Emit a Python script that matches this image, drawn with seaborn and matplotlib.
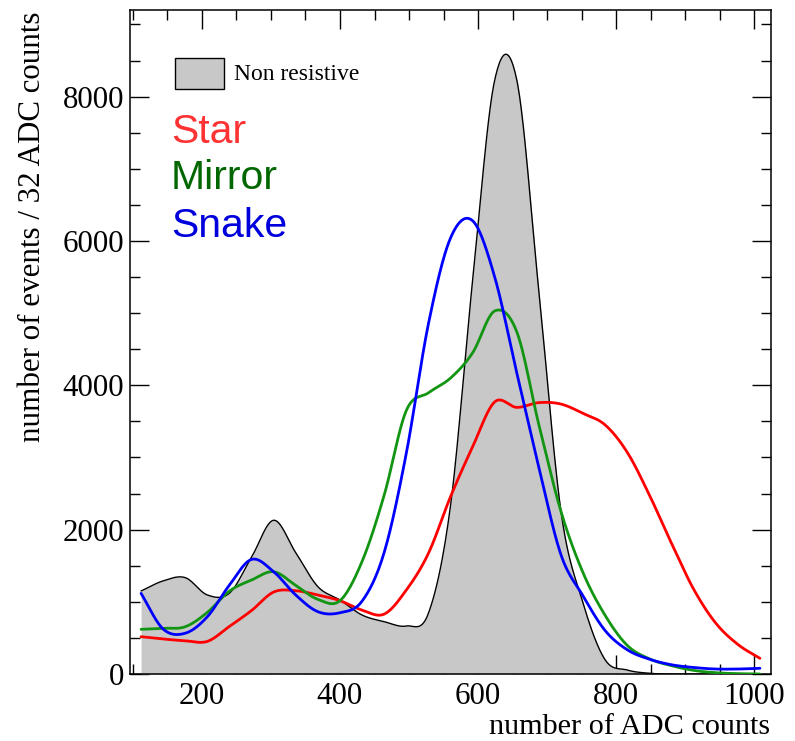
import numpy as np
import pandas as pd
import matplotlib
matplotlib.use("Agg")
import matplotlib.pyplot as plt
from matplotlib.patches import Rectangle
from matplotlib.ticker import MultipleLocator
import seaborn as sns

# ---- data (bin centres, 32 ADC counts per bin) ----
adc = [112, 144, 176, 208, 240, 272, 304, 336, 368, 400, 432, 464, 496, 528, 560,
       592, 624, 656, 688, 720, 752, 784, 816, 848, 880, 912, 944, 976, 1008]
non_resistive = [1150, 1290, 1335, 1095, 1120, 1620, 2130, 1680, 1210, 1025, 817, 725,
                 665, 840, 2330, 5450, 8230, 8230, 5300, 2250, 980, 195, 55, 10, 0, 0, 0, 0, 0]
star = [517, 485, 460, 452, 660, 880, 1136, 1154, 1094, 1016, 885, 830, 1163, 1671, 2456,
        3148, 3770, 3694, 3760, 3740, 3610, 3450, 3070, 2479, 1810, 1175, 705, 410, 217]
mirror = [619, 633, 655, 854, 1150, 1302, 1417, 1228, 1034, 1016, 1560, 2479, 3650, 3896, 4100,
          4450, 5030, 4740, 3450, 2250, 1400, 810, 395, 210, 115, 50, 18, 5, 0]
snake = [1117, 623, 565, 794, 1233, 1588, 1417, 1094, 863, 849, 1010, 1685, 3057, 4850, 6040,
         6280, 5500, 4170, 2860, 1650, 1080, 600, 335, 205, 128, 90, 69, 69, 79]

series_names = ["Star", "Mirror", "Snake"]
line_colors = {"Star": "#ff0000", "Mirror": "#129512", "Snake": "#0000ff"}
text_colors = {"Star": "#ff3333", "Mirror": "#006600", "Snake": "#0000dd"}


def smooth(x, y, n=24):
    """Catmull-Rom curve through the bin values (rendering only)."""
    x = np.asarray(x, float)
    y = np.asarray(y, float)
    yp = np.concatenate([[2 * y[0] - y[1]], y, [2 * y[-1] - y[-2]]])
    t = np.linspace(0, 1, n, endpoint=False)
    xs, ys = [], []
    for i in range(len(x) - 1):
        p0, p1, p2, p3 = yp[i:i + 4]
        yy = 0.5 * (2 * p1 + (-p0 + p2) * t + (2 * p0 - 5 * p1 + 4 * p2 - p3) * t ** 2
                    + (-p0 + 3 * p1 - 3 * p2 + p3) * t ** 3)
        xs.append(x[i] + (x[i + 1] - x[i]) * t)
        ys.append(yy)
    xs.append([x[-1]])
    ys.append([y[-1]])
    return np.concatenate(xs), np.clip(np.concatenate(ys), 0, None)


sns.set_style("ticks")
plt.rcParams["font.family"] = ["Liberation Serif", "DejaVu Serif"]
plt.rcParams["text.color"] = "black"
plt.rcParams["xtick.labelcolor"] = "black"
plt.rcParams["ytick.labelcolor"] = "black"

fig = plt.figure(figsize=(7.95, 7.41), dpi=100)
ax = fig.add_axes([130 / 795, 67 / 741, 641 / 795, 664 / 741])

# grey filled histogram
gx, gy = smooth(adc, non_resistive)
ax.fill_between(gx, 0, gy, color="#c8c8c8", linewidth=0, zorder=1)
sns.lineplot(x=gx, y=gy, ax=ax, color="black", linewidth=1.0, sort=False, zorder=2)

frames = []
for name, vals in zip(series_names, [star, mirror, snake]):
    sx, sy = smooth(adc, vals)
    frames.append(pd.DataFrame({"adc": sx, "events": sy, "layout": name}))
df = pd.concat(frames, ignore_index=True)
sns.lineplot(data=df, x="adc", y="events", hue="layout", palette=line_colors,
             linewidth=2.0, sort=False, ax=ax, legend=False, zorder=3)

ax.set_xlim(96, 1024)
ax.set_ylim(0, 9200)
ax.xaxis.set_major_locator(MultipleLocator(200))
ax.xaxis.set_minor_locator(MultipleLocator(50))
ax.yaxis.set_major_locator(MultipleLocator(2000))
ax.yaxis.set_minor_locator(MultipleLocator(500))
ax.tick_params(which="both", direction="in", top=True, right=True, width=1.0,
               color="black", labelcolor="black", labelsize=22.3)
ax.tick_params(which="major", length=14)
ax.tick_params(which="minor", length=7)
ax.tick_params(axis="y", pad=4)
ax.tick_params(axis="x", pad=6)
for s in ax.spines.values():
    s.set_linewidth(1.1)
    s.set_color("black")
ax.set_xlabel("")
ax.set_ylabel("")

fig.text(770 / 795, 1 - 734.5 / 741, "number of ADC counts", ha="right", va="baseline",
         fontsize=21.8, color="black")
fig.text(33 / 795, 1 - 12 / 741, "number of events / 32 ADC counts", rotation=90,
         ha="center", va="top", fontsize=22.3, color="black")

# legend
ax.add_patch(Rectangle((45 / 641, (674 - 89) / 664), 49 / 641, 31 / 664,
                       transform=ax.transAxes, facecolor="#c8c8c8", edgecolor="black",
                       linewidth=1.0, zorder=5))
ax.text(104 / 641, (674 - 74) / 664, "Non resistive", transform=ax.transAxes,
        ha="left", va="center", fontsize=17, color="black")
for name, ypx in zip(series_names, [132, 178, 226]):
    ax.text(41 / 641, (674 - ypx) / 664, name, transform=ax.transAxes, ha="left",
            va="center", fontsize=29.5, color=text_colors[name],
            family=["Liberation Sans", "DejaVu Sans"])

fig.savefig("out.png", dpi=100)
